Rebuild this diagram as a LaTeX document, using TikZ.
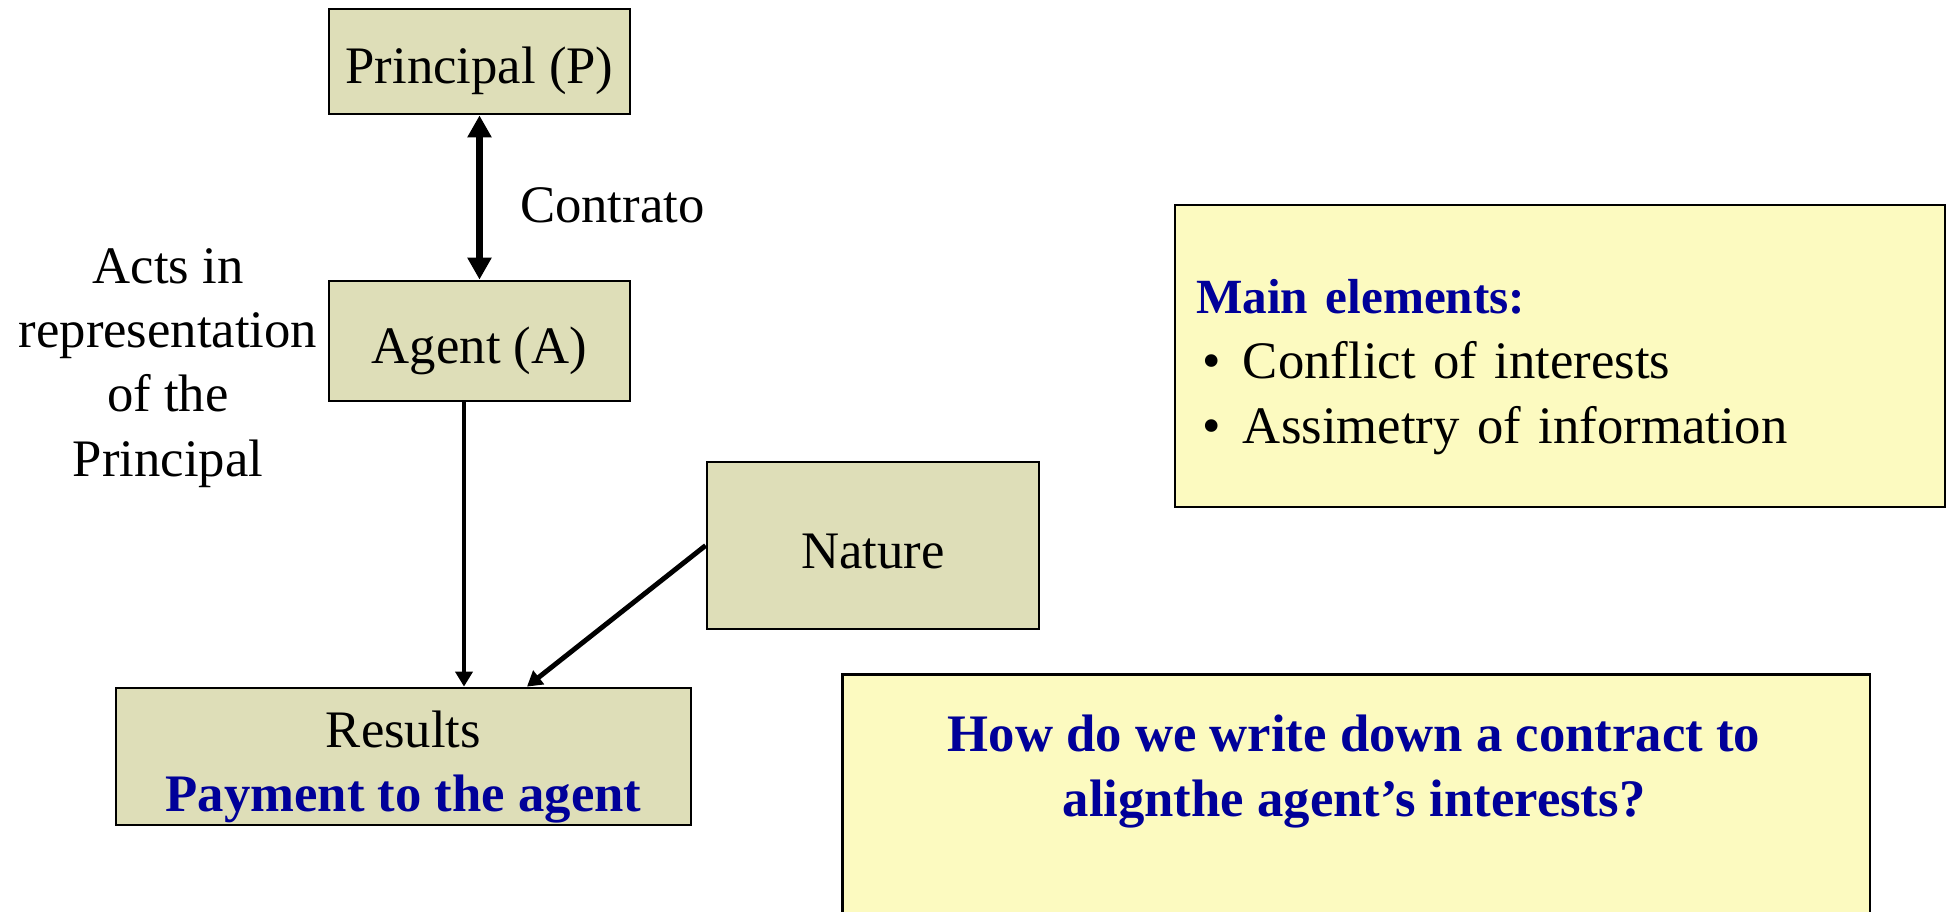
\documentclass[tikz,border=0pt]{standalone}
\usepackage{fontspec}
\setmainfont{Liberation Serif}
\usetikzlibrary{arrows.meta,positioning}
\definecolor{olivebox}{RGB}{222,222,184}
\definecolor{notebox}{RGB}{252,250,192}
\definecolor{navytext}{RGB}{0,0,153}

\begin{document}
\begin{tikzpicture}[x=0.02cm,y=-0.02cm,>={Triangle[length=0.3cm,width=0.34cm]},
  main node/.style={rectangle,draw,line width=1.6pt,fill=olivebox,inner sep=0pt,align=center,font=\fontsize{30}{36.5}\selectfont},
  note node/.style={rectangle,draw,line width=1.6pt,fill=notebox,inner sep=0pt},
  plain text/.style={align=center,inner sep=0pt,font=\fontsize{30}{36.5}\selectfont},
  blue text/.style={align=center,inner sep=0pt,text=navytext,font=\fontsize{30}{37}\selectfont\bfseries}]
  \useasboundingbox (0,0) rectangle (1948,912);

  \node[main node,minimum width=6.02cm,minimum height=2.1cm] (principal) at (479.5,61.5) {\rule{0pt}{32pt}Principal (P)};
  \node[main node,minimum width=6.02cm,minimum height=2.4cm] (agent) at (479.5,341) {\rule{0pt}{32pt}Agent (A)};
  \node[main node,minimum width=6.64cm,minimum height=3.34cm] (nature) at (873,545.5) {\rule{0pt}{26pt}Nature};
  \node[main node,minimum width=11.5cm,minimum height=2.74cm] (results) at (403.5,756.5) {\rule{0pt}{33pt}Results\\{\bfseries\color{navytext}Payment to the agent}};
  \node[plain text] (acts) at (168,368) {Acts in\\representation\\of the\\Principal};

  \node[note node,minimum height=6.04cm,text width=14.56cm,inner xsep=0.42cm,align=left,font=\fontsize{30}{37}\selectfont] (elements) at (1560,356)
    {\rule{0pt}{32pt}{\fontsize{28}{37}\selectfont\bfseries\color{navytext}Main elements:}\\
     \hspace*{0.12cm}\textbullet\hspace{0.45cm}Conflict of interests\\
     \hspace*{0.12cm}\textbullet\hspace{0.45cm}Assimetry of information};
  \node[note node,minimum width=20.56cm,minimum height=6cm,anchor=north] (question) at (1356,673) {};
  \node[blue text] (questiontext) at (1354,771.5) {How do we write down a contract to\\alignthe agent’s interests?};

  \coordinate (actpoint) at ([xshift=-0.31cm]agent.south);
  \coordinate (natureend) at ([xshift=2.47cm]results.north);

\path[->,line width=2.8pt]
  (principal) edge[<->,line width=4pt,>={Triangle[length=0.44cm,width=0.46cm]}] node[plain text,right=0.74cm,yshift=-0.15cm] (contract) {Contrato} (agent)
  (actpoint) edge (actpoint |- results.north)
  (nature.west) edge (natureend)
;
\end{tikzpicture}
\end{document}
